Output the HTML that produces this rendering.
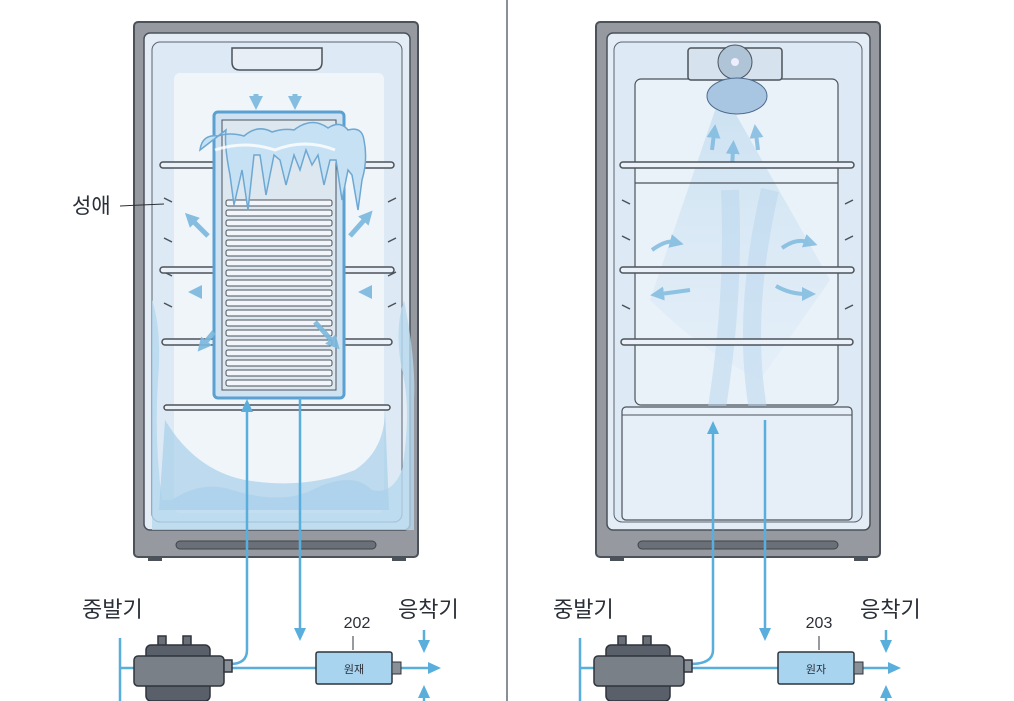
<!DOCTYPE html>
<html><head><meta charset="utf-8"><style>
html,body{margin:0;padding:0;background:#fff;width:1014px;height:701px;overflow:hidden}
svg{display:block}
text{font-family:"Liberation Sans","Noto Sans CJK KR",sans-serif;fill:#2a2f38}
</style></head><body>
<svg width="1014" height="701" viewBox="0 0 1014 701" xmlns="http://www.w3.org/2000/svg">
<defs>
<marker id="ah" markerWidth="14" markerHeight="14" refX="8" refY="7" orient="auto" markerUnits="userSpaceOnUse"><path d="M0,1 L13,7 L0,13 z" fill="#5aaedc"/></marker>
<marker id="ah2" markerWidth="14" markerHeight="14" refX="4" refY="7" orient="auto" markerUnits="userSpaceOnUse"><path d="M0,0 L14,7 L0,14 z" fill="#7ab8de"/></marker>
<linearGradient id="beam" x1="0" y1="0" x2="0" y2="1"><stop offset="0" stop-color="#9cc8e6" stop-opacity=".8"/><stop offset="1" stop-color="#c8e0f2" stop-opacity=".3"/></linearGradient>
</defs>
<rect width="1014" height="701" fill="#fff"/>
<line x1="507" y1="0" x2="507" y2="701" stroke="#8a8f96" stroke-width="2"/>

<!-- LEFT FRIDGE -->
<rect x="134" y="22" width="284" height="535" rx="4" fill="#969aa0" stroke="#4c525a" stroke-width="2"/>
<rect x="144" y="33" width="266" height="497" rx="6" fill="#e4edf6" stroke="#4c525a" stroke-width="1.5"/>
<rect x="152" y="42" width="250" height="480" rx="8" fill="#dde9f4" stroke="#5a6270" stroke-width="1"/>
<rect x="174" y="73" width="210" height="440" rx="6" fill="#f0f5fa"/>
<path d="M232,48 h90 v14 q0,8 -8,8 h-74 q-8,0 -8,-8z" fill="#e8eef5" stroke="#4c525a" stroke-width="1.5"/>
<rect x="176" y="541" width="200" height="8" rx="4" fill="#6b7078" stroke="#3e444c"/>
<rect x="148" y="556" width="14" height="5" fill="#4c525a"/><rect x="392" y="556" width="14" height="5" fill="#4c525a"/>
<g stroke="#4c525a" stroke-width="1.5" fill="none">
<path d="M164,198 l8,4 M164,238 l8,4 M164,272 l8,4 M164,303 l8,4 M388,202 l8,-4 M388,242 l8,-4 M388,276 l8,-4 M388,307 l8,-4"/>
</g>
<!-- ice bottom -->
<path d="M152,300 q10,30 6,80 q-4,60 4,120 h10 q30,-20 60,-10 q50,15 80,0 q40,-20 60,0 q20,5 30,-20 q10,-60 0,-100 q-8,-40 2,-70 q12,60 10,100 v130 H152z" fill="#b6d8ee" opacity=".8"/>
<path d="M165,420 q30,50 80,60 q60,10 110,-10 q30,-20 30,-60 l4,100 h-230z" fill="#a6cfea" opacity=".7"/>
<g fill="#eaf1f8" stroke="#4c525a" stroke-width="1.5">
<rect x="160" y="162" width="234" height="6" rx="3"/>
<rect x="160" y="267" width="234" height="6" rx="3"/>
<rect x="162" y="339" width="230" height="6" rx="3"/>
<rect x="164" y="405" width="226" height="5" rx="2.5"/>
</g>
<!-- evaporator -->
<rect x="214" y="112" width="130" height="286" rx="4" fill="#cfe2f2" stroke="#5aa0d0" stroke-width="3"/>
<rect x="222" y="120" width="114" height="270" fill="#dde7f0" stroke="#4c525a"/>
<g fill="#f2f6fa" stroke="#4c525a" stroke-width="1">
<rect x="226" y="200" width="106" height="6" rx="2"/><rect x="226" y="210" width="106" height="6" rx="2"/><rect x="226" y="220" width="106" height="6" rx="2"/><rect x="226" y="230" width="106" height="6" rx="2"/><rect x="226" y="240" width="106" height="6" rx="2"/><rect x="226" y="250" width="106" height="6" rx="2"/><rect x="226" y="260" width="106" height="6" rx="2"/><rect x="226" y="270" width="106" height="6" rx="2"/><rect x="226" y="280" width="106" height="6" rx="2"/><rect x="226" y="290" width="106" height="6" rx="2"/><rect x="226" y="300" width="106" height="6" rx="2"/><rect x="226" y="310" width="106" height="6" rx="2"/><rect x="226" y="320" width="106" height="6" rx="2"/><rect x="226" y="330" width="106" height="6" rx="2"/><rect x="226" y="340" width="106" height="6" rx="2"/><rect x="226" y="350" width="106" height="6" rx="2"/><rect x="226" y="360" width="106" height="6" rx="2"/><rect x="226" y="370" width="106" height="6" rx="2"/><rect x="226" y="380" width="106" height="6" rx="2"/>
</g>
<!-- ice top -->
<path d="M200,150 q2,-16 18,-14 q12,-4 26,0 q14,-12 28,-4 q12,-4 22,-2 q18,-14 34,-2 q12,-8 20,2 q14,-4 16,10 q4,20 -2,40 l-4,30 l-6,-35 l-4,-5 l-6,30 l-6,-40 l-6,0 l-6,25 l-6,-30 l-6,10 l-6,-15 l-6,20 l-6,-15 l-8,30 l-6,-25 l-6,-5 l-8,40 l-6,-40 l-6,0 l-6,55 l-6,-40 l-8,35 l-4,-30 q-6,-30 -4,-45z" fill="#c6e1f3" stroke="#6ea8d2" stroke-width="1.5"/>
<path d="M215,150 q30,-10 60,0 q30,-12 60,0" stroke="#ffffff" stroke-width="3" fill="none" opacity=".8"/>
<!-- airflow arrows -->
<g stroke="#7ab8de" stroke-width="5" fill="none" marker-end="url(#ah2)" opacity=".9">
<path d="M256,94 v6"/><path d="M295,94 v6"/>
<path d="M208,236 l-16,-16"/><path d="M350,236 l16,-18"/>
<path d="M202,292 h-4"/><path d="M372,292 h-4"/>
<path d="M214,332 l-10,12"/><path d="M315,322 l18,20"/>
</g>
<text x="72" y="213" font-size="21">성애</text>
<line x1="120" y1="206" x2="164" y2="204" stroke="#2a2f38" stroke-width="1"/>

<!-- RIGHT FRIDGE -->
<rect x="596" y="22" width="284" height="535" rx="4" fill="#969aa0" stroke="#4c525a" stroke-width="2"/>
<rect x="607" y="33" width="263" height="497" rx="6" fill="#e4edf6" stroke="#4c525a" stroke-width="1.5"/>
<rect x="614" y="42" width="248" height="480" rx="8" fill="#dde9f4" stroke="#5a6270" stroke-width="1"/>
<rect x="635" y="79" width="203" height="326" rx="6" fill="#e9f1f9" stroke="#4c525a" stroke-width="1.2"/>
<path d="M722,90 L650,300 Q700,350 760,380 L830,280 Z" fill="url(#beam)" opacity=".5"/>
<path d="M715,420 q20,-120 15,-230 M760,420 q-20,-100 10,-230" stroke="#b8d6ee" stroke-width="18" fill="none" opacity=".5"/>
<rect x="688" y="48" width="94" height="32" rx="3" fill="#d6e2ee" stroke="#4c525a" stroke-width="1.5"/>
<circle cx="735" cy="62" r="17" fill="#b0c4d8" stroke="#4c525a"/>
<circle cx="735" cy="62" r="4" fill="#eef"/>
<ellipse cx="737" cy="96" rx="30" ry="18" fill="#a8c6e2" stroke="#4c6a8a"/>
<g stroke="#7ab8de" stroke-width="4" fill="none" marker-end="url(#ah2)" opacity=".8">
<path d="M712,150 l2,-16"/><path d="M758,150 l-2,-16"/><path d="M732,168 l1,-18"/>
<path d="M652,250 q14,-10 22,-8"/><path d="M690,290 q-14,2 -30,4"/>
<path d="M782,248 q14,-10 26,-6"/><path d="M776,286 q14,8 30,8"/>
</g>
<g stroke="#4c525a" stroke-width="1.5" fill="none">
<path d="M622,200 l8,4 M622,236 l8,4 M622,305 l8,4 M845,204 l8,-4 M845,240 l8,-4 M845,309 l8,-4"/>
</g>
<g fill="#eaf1f8" stroke="#4c525a" stroke-width="1.5">
<rect x="620" y="162" width="234" height="6" rx="3"/>
<rect x="620" y="267" width="234" height="6" rx="3"/>
<rect x="621" y="339" width="232" height="6" rx="3"/>
</g>
<line x1="635" y1="183" x2="838" y2="183" stroke="#4c525a" stroke-width="1.2"/>
<rect x="622" y="407" width="230" height="113" rx="4" fill="#e6eff8" stroke="#4c525a" stroke-width="1.2"/>
<line x1="622" y1="415" x2="852" y2="415" stroke="#4c525a" stroke-width="1"/>
<rect x="638" y="541" width="200" height="8" rx="4" fill="#6b7078" stroke="#3e444c"/>
<rect x="610" y="556" width="14" height="5" fill="#4c525a"/><rect x="854" y="556" width="14" height="5" fill="#4c525a"/>

<!-- PIPES -->
<g stroke="#5aaedc" stroke-width="2.5" fill="none">
<path d="M120,665 V701 M120,665 V638 M120,668 H140"/>
<path d="M230,668 H436" marker-end="url(#ah)"/>
<path d="M230,664 Q247,664 247,650 V404" marker-end="url(#ah)"/>
<path d="M300,398 V636" marker-end="url(#ah)"/>
<path d="M424,630 V648" marker-end="url(#ah)"/>
<path d="M424,701 V690" marker-end="url(#ah)"/>
<path d="M580,665 V701 M580,665 V638 M580,668 H600"/>
<path d="M690,668 H896" marker-end="url(#ah)"/>
<path d="M690,664 Q713,664 713,650 V426" marker-end="url(#ah)"/>
<path d="M765,420 V636" marker-end="url(#ah)"/>
<path d="M886,630 V648" marker-end="url(#ah)"/>
<path d="M886,701 V690" marker-end="url(#ah)"/>
</g>
<g stroke="#2f343c" stroke-width="1.5">
<rect x="158" y="636" width="8" height="10" fill="#6b7078"/><rect x="183" y="636" width="8" height="10" fill="#6b7078"/>
<rect x="146" y="645" width="64" height="56" rx="5" fill="#5a6069"/>
<rect x="134" y="656" width="90" height="30" rx="4" fill="#7a8088"/>
<rect x="224" y="660" width="8" height="12" fill="#8a9098"/>
<rect x="618" y="636" width="8" height="10" fill="#6b7078"/><rect x="643" y="636" width="8" height="10" fill="#6b7078"/>
<rect x="606" y="645" width="64" height="56" rx="5" fill="#5a6069"/>
<rect x="594" y="656" width="90" height="30" rx="4" fill="#7a8088"/>
<rect x="684" y="660" width="8" height="12" fill="#8a9098"/>
</g>
<rect x="316" y="652" width="76" height="32" rx="2" fill="#a9d4f0" stroke="#2f343c" stroke-width="1.5"/>
<rect x="392" y="662" width="9" height="12" fill="#8a9098" stroke="#2f343c"/>
<line x1="353" y1="636" x2="353" y2="650" stroke="#2f343c"/>
<text x="354" y="673" font-size="11" text-anchor="middle" fill="#2a4a66">원재</text>
<rect x="778" y="652" width="76" height="32" rx="2" fill="#a9d4f0" stroke="#2f343c" stroke-width="1.5"/>
<rect x="854" y="662" width="9" height="12" fill="#8a9098" stroke="#2f343c"/>
<line x1="819" y1="636" x2="819" y2="650" stroke="#2f343c"/>
<text x="816" y="673" font-size="11" text-anchor="middle" fill="#2a4a66">원자</text>
<text x="82" y="617" font-size="22">중발기</text>
<text x="357" y="628" font-size="16" text-anchor="middle">202</text>
<text x="398" y="617" font-size="22">응착기</text>
<text x="553" y="617" font-size="22">중발기</text>
<text x="819" y="628" font-size="16" text-anchor="middle">203</text>
<text x="860" y="617" font-size="22">응착기</text>
</svg>
</body></html>
